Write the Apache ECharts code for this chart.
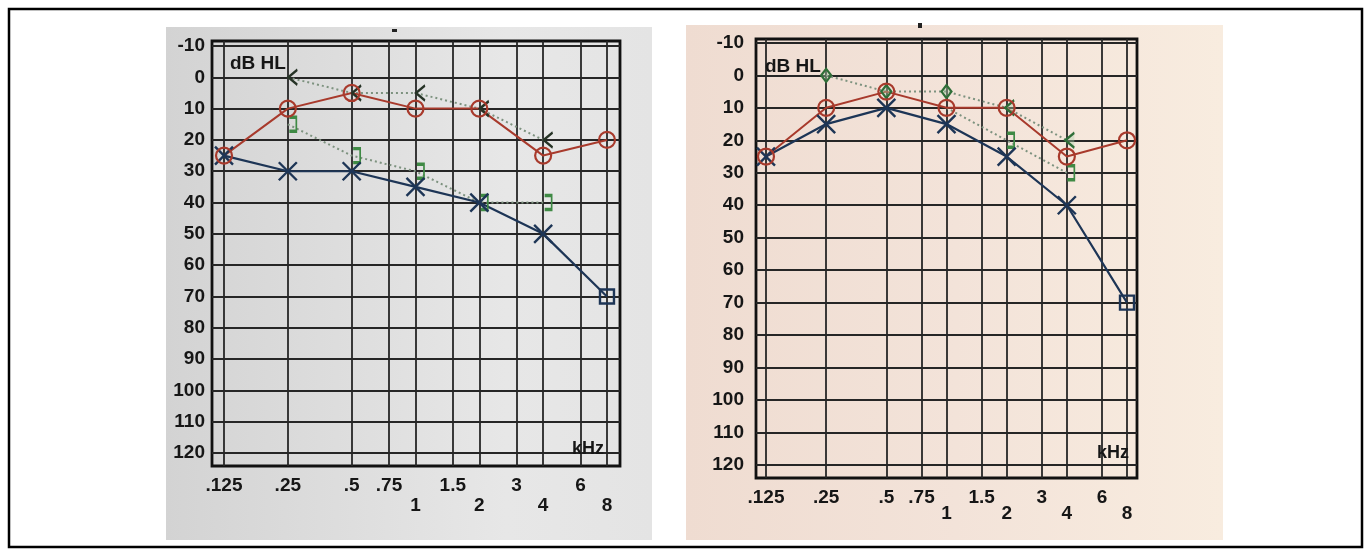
<!DOCTYPE html>
<html><head><meta charset="utf-8">
<script src="https://cdn.jsdelivr.net/npm/echarts@6/dist/echarts.min.js"></script>
<style>html,body{margin:0;padding:0;background:#fff}#c{width:1371px;height:555px}</style>
</head><body><div id="c"></div>
<script>
// ---------- data ----------
const freqTicks = [0.125, 0.25, 0.5, 0.75, 1, 1.5, 2, 3, 4, 6, 8];
const freqTickLabels = ['.125', '.25', '.5', '.75', '1', '1.5', '2', '3', '4', '6', '8'];
const lowerRowLabels = ['1', '2', '4', '8'];
const dbTicks = [-10, 0, 10, 20, 30, 40, 50, 60, 70, 80, 90, 100, 110, 120];
const freqs = [0.125, 0.25, 0.5, 1, 2, 4, 8];

// left audiogram
const leftAirRed = [25, 10, 5, 10, 10, 25, 20];        // O
const leftAirBlue = [25, 30, 30, 35, 40, 50, 70];      // X (8 kHz boxed)
const leftBoneAngle = [null, 0, 5, 5, 10, 20, null];   // <
const leftBoneBracket = [null, 15, 25, 30, 40, 40, null]; // ]

// right audiogram
const rightAirRed = [25, 10, 5, 10, 10, 25, 20];       // O
const rightAirBlue = [25, 15, 10, 15, 25, 40, 70];     // X (8 kHz boxed)
const rightBoneAngle = [null, 0, 5, 5, 10, 20, null];  // diamonds then <
const rightBoneBracket = [null, null, null, 10, 20, 30, null]; // ]

// ---------- helpers ----------
const FONT = 'Liberation Sans, Arial, sans-serif';
const TXT = '#161616';
const RED = '#a83a2c', BLUE = '#1d3556', GREEN = '#3f8a45', DARK = '#263326', DOT = '#7d927f';
const GRIDC = '#262626';
const CROSS = 'path://M0,0L10,10M10,0L0,10';
const ANGLE = 'path://M10,0L0,8L10,16';
const BRACKET = 'path://M0,0L8,0L8,16L0,16';

function pts(vals) {
  const out = [];
  vals.forEach((v, i) => { if (v !== null) out.push([Math.log2(freqs[i]), v]); });
  return out;
}
function xAxis(gi, min, max, rowGap) {
  const vals = freqTicks.map(Math.log2);
  const base = {fontSize: 19, fontWeight: 'bold', fontFamily: FONT, color: TXT};
  return {
    type: 'value', gridIndex: gi, min: min, max: max, position: 'bottom',
    axisLine: {show: false},
    axisTick: {show: false, customValues: vals},
    axisLabel: Object.assign({
      customValues: vals, margin: 10,
      formatter: function (v) {
        let idx = 0, best = 1e9;
        vals.forEach((t, i) => { const d = Math.abs(t - v); if (d < best) { best = d; idx = i; } });
        const lab = freqTickLabels[idx];
        return lowerRowLabels.indexOf(lab) >= 0 ? '{l|' + lab + '}' : '{u|' + lab + '}';
      },
      rich: {
        u: Object.assign({}, base),
        l: Object.assign({padding: [rowGap, 0, 0, 0]}, base)
      }
    }, base),
    splitLine: {show: true, lineStyle: {color: GRIDC, width: 1.8}}
  };
}
function yAxis(gi, min, max, margin) {
  return {
    type: 'value', gridIndex: gi, inverse: true, min: min, max: max,
    axisLine: {show: false},
    axisTick: {show: false, customValues: dbTicks},
    axisLabel: {customValues: dbTicks, margin: margin, color: TXT, fontSize: 19, fontWeight: 'bold', fontFamily: FONT},
    splitLine: {show: true, lineStyle: {color: GRIDC, width: 1.8}}
  };
}
function line(gi, vals, o) {
  return Object.assign({
    type: 'line', xAxisIndex: gi, yAxisIndex: gi, data: pts(vals),
    silent: true, animation: false, z: 5
  }, o);
}

const series = [];
// Left chart
series.push(line(0, leftBoneBracket, {
  symbol: BRACKET, symbolSize: [7, 14], symbolOffset: [5, 0],
  lineStyle: {color: DOT, width: 2, type: [2, 3]},
  itemStyle: {color: 'transparent', borderColor: GREEN, borderWidth: 2.4}
}));
series.push(line(0, leftBoneAngle, {
  symbol: ANGLE, symbolSize: [9, 15], symbolOffset: [5, 0],
  lineStyle: {color: DOT, width: 2, type: [2, 3]},
  itemStyle: {color: 'transparent', borderColor: DARK, borderWidth: 2.2}
}));
series.push(line(0, leftAirBlue, {
  symbol: function (v, p) { return p.dataIndex === leftAirBlue.length - 1 ? 'rect' : CROSS; },
  symbolSize: function (v, p) { return p.dataIndex === leftAirBlue.length - 1 ? 14 : 18; },
  lineStyle: {color: BLUE, width: 2.2},
  itemStyle: {color: 'transparent', borderColor: BLUE, borderWidth: 2.4}
}));
series.push(line(0, leftAirRed, {
  symbol: 'circle', symbolSize: 16,
  lineStyle: {color: RED, width: 2},
  itemStyle: {color: 'transparent', borderColor: RED, borderWidth: 2.2}
}));
// Right chart
series.push(line(1, rightBoneBracket, {
  symbol: function (v, p) { return p.dataIndex === 0 ? 'none' : BRACKET; },
  symbolSize: [7, 14], symbolOffset: [4, 0],
  lineStyle: {color: DOT, width: 2, type: [2, 3]},
  itemStyle: {color: 'transparent', borderColor: GREEN, borderWidth: 2.4}
}));
series.push(line(1, rightBoneAngle, {
  symbol: function (v, p) { return v[0] < 0.5 ? 'diamond' : ANGLE; },
  symbolSize: function (v, p) { return v[0] < 0.5 ? [10, 13] : [9, 15]; },
  symbolOffset: function (v, p) { return v[0] < 0.5 ? [0, 0] : [3, 0]; },
  lineStyle: {color: DOT, width: 2, type: [2, 3]},
  itemStyle: {color: 'rgba(170,210,170,0.4)', borderColor: '#2f6e38', borderWidth: 2.2}
}));
series.push(line(1, rightAirBlue, {
  symbol: function (v, p) { return p.dataIndex === rightAirBlue.length - 1 ? 'rect' : CROSS; },
  symbolSize: function (v, p) { return p.dataIndex === rightAirBlue.length - 1 ? 14 : 18; },
  lineStyle: {color: BLUE, width: 2.2},
  itemStyle: {color: 'transparent', borderColor: BLUE, borderWidth: 2.4}
}));
series.push(line(1, rightAirRed, {
  symbol: 'circle', symbolSize: 16,
  lineStyle: {color: RED, width: 2},
  itemStyle: {color: 'transparent', borderColor: RED, borderWidth: 2.2}
}));

const chart = echarts.init(document.getElementById('c'), null, {renderer: 'canvas'});
chart.setOption({
  animation: false,
  backgroundColor: '#ffffff',
  grid: [
    {left: 212, top: 41, width: 408, height: 425, show: true, borderColor: '#111', borderWidth: 2.8, backgroundColor: 'transparent'},
    {left: 756, top: 39, width: 381, height: 439, show: true, borderColor: '#111', borderWidth: 2.8, backgroundColor: 'transparent'}
  ],
  xAxis: [xAxis(0, -3.188, 3.204, 20), xAxis(1, -3.166, 3.166, 16)],
  yAxis: [yAxis(0, -11.6, 124.15, 7), yAxis(1, -11.2, 124, 12)],
  graphic: [
    {type: 'rect', z: -100, silent: true, shape: {x: 166, y: 27, width: 486, height: 513},
      style: {fill: {type: 'linear', x: 0, y: 0, x2: 1, y2: 0, colorStops: [
        {offset: 0, color: '#d3d3d3'}, {offset: 0.35, color: '#dddddd'}, {offset: 0.7, color: '#e7e7e7'}, {offset: 1, color: '#e4e4e4'}]}}},
    {type: 'rect', z: -100, silent: true, shape: {x: 686, y: 25, width: 537, height: 515},
      style: {fill: {type: 'linear', x: 0, y: 0, x2: 1, y2: 0, colorStops: [
        {offset: 0, color: '#efdcd1'}, {offset: 0.5, color: '#f3e3d9'}, {offset: 1, color: '#f8ecdf'}]}}},
    {type: 'rect', z: 100, silent: true, shape: {x: 9, y: 9, width: 1353, height: 538},
      style: {fill: 'none', stroke: '#000', lineWidth: 2.5}},
    {type: 'rect', z: 50, silent: true, shape: {x: 392, y: 29, width: 5, height: 3}, style: {fill: '#222'}},
    {type: 'rect', z: 50, silent: true, shape: {x: 918, y: 23, width: 4, height: 5}, style: {fill: '#222'}},
    {type: 'text', z: 50, silent: true, x: 230, y: 64,
      style: {text: 'dB HL', font: 'bold 19px ' + FONT, fill: TXT, verticalAlign: 'middle'}},
    {type: 'text', z: 50, silent: true, x: 765, y: 67,
      style: {text: 'dB HL', font: 'bold 19px ' + FONT, fill: TXT, verticalAlign: 'middle'}},
    {type: 'text', z: 50, silent: true, x: 572, y: 449,
      style: {text: 'kHz', font: 'bold 18px ' + FONT, fill: TXT, verticalAlign: 'middle'}},
    {type: 'text', z: 50, silent: true, x: 1097, y: 453,
      style: {text: 'kHz', font: 'bold 18px ' + FONT, fill: TXT, verticalAlign: 'middle'}}
  ],
  series: series
});
</script></body></html>
